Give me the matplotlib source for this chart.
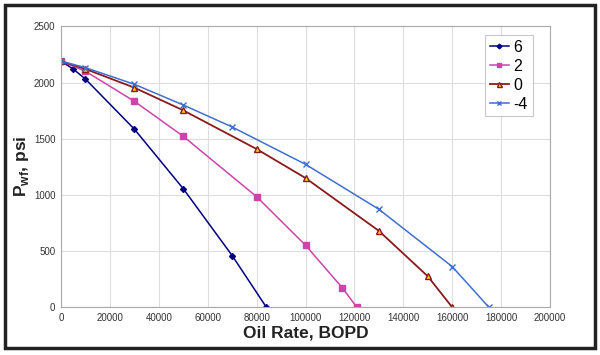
import matplotlib
matplotlib.use("Agg")
import matplotlib.pyplot as plt
from matplotlib.patches import Rectangle

plt.rcParams["font.family"] = ["Liberation Sans", "DejaVu Sans"]
plt.rcParams["mathtext.fontset"] = "custom"
plt.rcParams["mathtext.bf"] = "Liberation Sans:bold"

# data
q_6 = [0, 5000, 10000, 30000, 50000, 70000, 84000]
p_6 = [2190, 2120, 2030, 1585, 1055, 460, 0]

q_2 = [0, 10000, 30000, 50000, 80000, 100000, 115000, 121000]
p_2 = [2190, 2100, 1833, 1521, 984, 552, 175, 0]

q_0 = [0, 10000, 30000, 50000, 80000, 100000, 130000, 150000, 160000]
p_0 = [2190, 2120, 1954, 1752, 1408, 1150, 680, 276, 0]

q_m4 = [0, 10000, 30000, 50000, 70000, 100000, 130000, 160000, 175000]
p_m4 = [2190, 2132, 1984, 1800, 1604, 1272, 872, 362, 0]

x_ticks = list(range(0, 200001, 20000))
y_ticks = list(range(0, 2501, 500))

fig = plt.figure(figsize=(6, 3.55), dpi=100)
ax = fig.add_axes([0.1017, 0.1344, 0.815, 0.7915])

ax.plot(q_6, p_6, color="#000080", lw=1.1, marker="D", ms=3, label="6")
ax.plot(q_2, p_2, color="#CC44AA", lw=1.1, marker="s", ms=4, label="2")
ax.plot(q_0, p_0, color="#8B1A1A", lw=1.3, marker="^", ms=4.5,
        mfc="#FFCC00", mec="#8B1A1A", label="0")
ax.plot(q_m4, p_m4, color="#3F6FCF", lw=1.1, marker="x", ms=4, mew=1, label="-4")

ax.set_xlim(0, 200000)
ax.set_ylim(0, 2500)
ax.set_xticks(x_ticks)
ax.set_yticks(y_ticks)
ax.tick_params(labelsize=7, length=0, colors="#333333", pad=4)
ax.grid(True, color="#DDDDDD", lw=0.8)
ax.set_axisbelow(True)
for s in ax.spines.values():
    s.set_color("#AAAAAA")
    s.set_linewidth(0.8)

ax.set_xlabel("Oil Rate, BOPD", fontsize=12.5, fontweight="bold", color="#222222", labelpad=2)
ax.set_ylabel(r"P$_{\mathbf{wf}}$, psi", fontsize=12.5, fontweight="bold", color="#222222")
ax.yaxis.set_label_coords(-0.062, 0.5)

leg = ax.legend(loc="upper right", bbox_to_anchor=(0.965, 0.97), borderaxespad=0,
                fontsize=11.5, frameon=True, fancybox=False, handlelength=1.2,
                handletextpad=0.3, borderpad=0.3, labelspacing=0.25, markerscale=0.8)
leg.get_frame().set_edgecolor("#BBBBBB")
leg.get_frame().set_linewidth(0.8)

# outer frame
fig.patches.append(Rectangle((0.009, 0.02), 0.982, 0.965, transform=fig.transFigure,
                             fill=False, edgecolor="#222222", lw=2.5))

fig.savefig("out.png", dpi=100)
